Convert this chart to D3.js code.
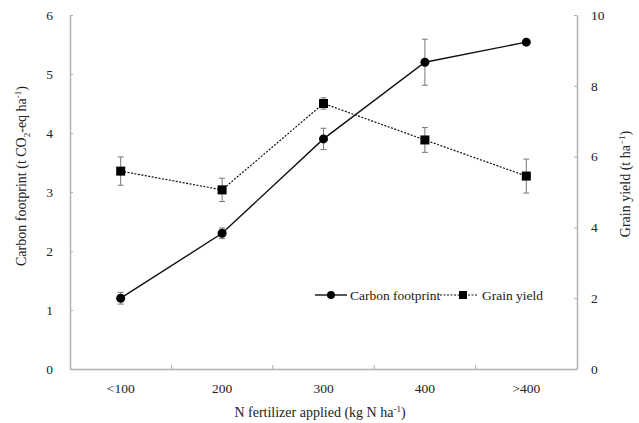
<!DOCTYPE html>
<html>
<head>
<meta charset="utf-8">
<script src="https://cdn.jsdelivr.net/npm/d3@7"></script>
<style>
body{margin:0;background:#fff}
svg text{font-family:"Liberation Serif","Times New Roman",serif;fill:#222}
</style>
</head>
<body>
<svg width="639" height="423" font-family="Liberation Serif, serif"></svg>
<script>
var categories=['<100','200','300','400','>400']
var carbon=[1.2,2.3,3.9,5.2,5.54]
var carbonErr=[0.1,0.09,0.18,0.39,0]
var grain=[5.59,5.06,7.5,6.47,5.45]
var grainErr=[0.4,0.33,0.16,0.35,0.48]
var leftTicks=[0,1,2,3,4,5,6]
var rightTicks=[0,2,4,6,8,10]

var svg=d3.select('svg')
var mLeft=70,mRight=577,mTop=15,mBottom=369
var x=d3.scaleBand().domain(categories).range([mLeft,mRight])
var yL=d3.scaleLinear().domain([0,6]).range([mBottom,mTop])
var yR=d3.scaleLinear().domain([0,10]).range([mBottom,mTop])
var axisCol='#b0b0b0'
var serif='Liberation Serif, serif'

// axes
var gx=svg.append('g').attr('transform','translate(0,'+mBottom+')')
  .call(d3.axisBottom(x).tickSize(0).tickPadding(14))
gx.attr('font-family',serif).attr('font-size',13.5)
gx.select('.domain').attr('stroke',axisCol).attr('stroke-width',1.5)
// inner tick marks between categories
gx.selectAll('line.sep').data(categories.slice(1)).enter().append('line')
  .attr('class','sep')
  .attr('x1',function(d){return x(d)}).attr('x2',function(d){return x(d)})
  .attr('y1',0).attr('y2',-4).attr('stroke',axisCol)

var gl=svg.append('g').attr('transform','translate('+mLeft+',0)')
  .call(d3.axisLeft(yL).tickValues(leftTicks).tickFormat(d3.format('d'))
    .tickSizeInner(-3).tickSizeOuter(0).tickPadding(17))
gl.attr('font-family',serif).attr('font-size',13.5)
gl.select('.domain').attr('stroke',axisCol).attr('stroke-width',1.5)
gl.selectAll('line').attr('stroke',axisCol)

var gr=svg.append('g').attr('transform','translate('+mRight+',0)')
  .call(d3.axisRight(yR).tickValues(rightTicks).tickFormat(d3.format('d'))
    .tickSizeInner(-3).tickSizeOuter(0).tickPadding(14))
gr.attr('font-family',serif).attr('font-size',13.5)
gr.select('.domain').attr('stroke',axisCol).attr('stroke-width',1.5)
gr.selectAll('line').attr('stroke',axisCol)

// titles
var t1=svg.append('text').attr('transform','translate(26,176) rotate(-90)')
  .attr('text-anchor','middle').attr('font-size',14)
t1.append('tspan').text('Carbon footprint (t CO')
t1.append('tspan').attr('font-size',9).attr('dy',4).text('2')
t1.append('tspan').attr('dy',-4).text('-eq ha')
t1.append('tspan').attr('font-size',9).attr('dy',-5).text('-1')
t1.append('tspan').attr('dy',5).text(')')

var t2=svg.append('text').attr('transform','translate(630,184) rotate(-90)')
  .attr('text-anchor','middle').attr('font-size',14)
t2.append('tspan').text('Grain yield (t ha')
t2.append('tspan').attr('font-size',9).attr('dy',-5).text('\u22121')
t2.append('tspan').attr('dy',5).text(')')

var t3=svg.append('text').attr('x',320).attr('y',417)
  .attr('text-anchor','middle').attr('font-size',14)
t3.append('tspan').text('N fertilizer applied (kg N ha')
t3.append('tspan').attr('font-size',9).attr('dy',-5).text('-1')
t3.append('tspan').attr('dy',5).text(')')

function cx(i){return x(categories[i])+x.bandwidth()/2}

// error bars
function errBars(vals,errs,y){
  var g=svg.append('g').attr('stroke','#777').attr('stroke-width',1)
  vals.forEach(function(v,i){
    if(!errs[i])return
    var xx=cx(i)
    g.append('line').attr('x1',xx).attr('x2',xx).attr('y1',y(v-errs[i])).attr('y2',y(v+errs[i]))
    g.append('line').attr('x1',xx-3).attr('x2',xx+3).attr('y1',y(v-errs[i])).attr('y2',y(v-errs[i]))
    g.append('line').attr('x1',xx-3).attr('x2',xx+3).attr('y1',y(v+errs[i])).attr('y2',y(v+errs[i]))
  })
}
errBars(carbon,carbonErr,yL)
errBars(grain,grainErr,yR)

var lineL=d3.line().x(function(d,i){return cx(i)}).y(function(d){return yL(d)})
var lineR=d3.line().x(function(d,i){return cx(i)}).y(function(d){return yR(d)})

svg.append('path').attr('d',lineR(grain)).attr('fill','none')
  .attr('stroke','#111').attr('stroke-width',1.2).attr('stroke-dasharray','2,1.5')
svg.append('path').attr('d',lineL(carbon)).attr('fill','none')
  .attr('stroke','#111').attr('stroke-width',1.4)

svg.selectAll('circle.cf').data(carbon).enter().append('circle').attr('class','cf')
  .attr('cx',function(d,i){return cx(i)}).attr('cy',function(d){return yL(d)})
  .attr('r',4.5).attr('fill','#000')
svg.selectAll('rect.gy').data(grain).enter().append('rect').attr('class','gy')
  .attr('x',function(d,i){return cx(i)-4.5}).attr('y',function(d){return yR(d)-4.5})
  .attr('width',9).attr('height',9).attr('fill','#000')

// legend
var lg=svg.append('g').attr('transform','translate(0,295)')
lg.append('line').attr('x1',315).attr('x2',347).attr('stroke','#111').attr('stroke-width',1.4)
lg.append('circle').attr('cx',331).attr('r',4).attr('fill','#000')
lg.append('text').attr('x',350).attr('dy','0.35em').attr('font-size',13.5).text('Carbon footprint')
lg.append('line').attr('x1',440).attr('x2',478).attr('stroke','#111').attr('stroke-width',1.2).attr('stroke-dasharray','2,1.5')
lg.append('rect').attr('x',459).attr('y',-4).attr('width',8).attr('height',8).attr('fill','#000')
lg.append('text').attr('x',482).attr('dy','0.35em').attr('font-size',13.5).text('Grain yield')
</script>
</body>
</html>
